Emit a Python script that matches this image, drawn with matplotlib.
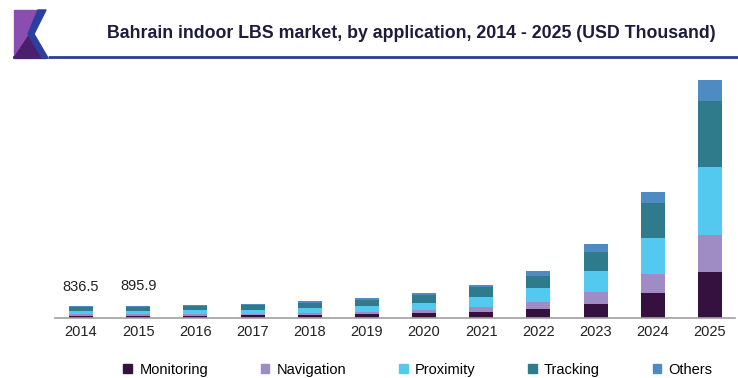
import numpy as np
import matplotlib.pyplot as plt
from matplotlib.patches import Polygon, Rectangle, Patch

plt.rcParams['font.family'] = ['Liberation Sans', 'DejaVu Sans']

years = ['2014', '2015', '2016', '2017', '2018', '2019',
         '2020', '2021', '2022', '2023', '2024', '2025']
segments = ['Monitoring', 'Navigation', 'Proximity', 'Tracking', 'Others']
colors = ['#35113f', '#a08cc4', '#54c9ef', '#2f7b8b', '#4d8bc2']

# USD thousand, per application
monitoring = [150, 160, 170, 185, 215, 255, 325, 450, 630, 1010, 1780, 3330]
navigation = [110, 118, 126, 135, 158, 188, 240, 360, 550, 890, 1390, 2640]
proximity = [235, 252, 270, 290, 340, 400, 510, 720, 960, 1490, 2570, 4920]
tracking = [275, 295, 318, 340, 400, 470, 595, 720, 910, 1390, 2520, 4750]
others = [66.5, 70.9, 76, 80, 87, 97, 120, 120, 320, 550, 790, 1490]
labelled = {0: '836.5', 1: '895.9'}

series = [monitoring, navigation, proximity, tracking, others]

fig = plt.figure(figsize=(7.38, 3.78), dpi=100)

# header: logo mark and rule
fig.patches.append(Rectangle((14 / 738, 1 - 58 / 378), 32 / 738, 48 / 378,
                             transform=fig.transFigure, color='#8a4db0', zorder=1))
fig.patches.append(Polygon([(30 / 738, 1 - 34 / 378), (46 / 738, 1 - 58 / 378),
                            (14 / 738, 1 - 58 / 378)],
                           transform=fig.transFigure, color='#4a1f6e', zorder=2))
fig.patches.append(Polygon([(38 / 738, 1 - 10 / 378), (46 / 738, 1 - 10 / 378),
                            (34 / 738, 1 - 34 / 378), (48 / 738, 1 - 58 / 378),
                            (42 / 738, 1 - 58 / 378), (28 / 738, 1 - 34 / 378)],
                           transform=fig.transFigure, color='#2d3f9e', zorder=3))
fig.patches.append(Polygon([(46 / 738, 1 - 10 / 378), (48 / 738, 1 - 10 / 378),
                            (48 / 738, 1 - 58 / 378), (34 / 738, 1 - 34 / 378)],
                           transform=fig.transFigure, color='white', zorder=2))
fig.add_artist(plt.Line2D([14 / 738, 1], [1 - 57 / 378, 1 - 57 / 378],
                          color='#2d3f8f', lw=2))

fig.text(411 / 738, 1 - 33 / 378,
         'Bahrain indoor LBS market, by application, 2014 - 2025 (USD Thousand)',
         ha='center', va='center', fontsize=12.8, fontweight='bold', color='#1c1c3c')

ax = fig.add_axes([55 / 738, 60 / 378, 680 / 738, 250 / 378])
x = np.arange(len(years))
bottom = np.zeros(len(years))
for name, vals, c in zip(segments, series, colors):
    ax.bar(x, vals, 0.42, bottom=bottom, color=c, label=name)
    bottom += np.array(vals)

for i, txt in labelled.items():
    ax.text(x[i], bottom[i] + 900, txt, ha='center', va='bottom',
            fontsize=10.5, color='#222222')

ax.set_xlim(-0.455, 11.44)
ax.set_ylim(0, 18000)
ax.set_xticks(x, years, fontsize=10.5, color='#222222')
ax.tick_params(axis='x', length=0, pad=5)
ax.set_yticks([])
for s in ['top', 'right', 'left']:
    ax.spines[s].set_visible(False)
ax.spines['bottom'].set_color('#a0a0a0')
ax.spines['bottom'].set_linewidth(1.2)

handles = [Patch(color=c) for c in colors]
fig.legend(handles, segments, loc='center', bbox_to_anchor=(418 / 738, 8 / 378),
           ncol=5, frameon=False, fontsize=10.5, handlelength=0.6, handleheight=0.6,
           handletextpad=0.5, columnspacing=3.6)

fig.savefig('out.png', dpi=100)
